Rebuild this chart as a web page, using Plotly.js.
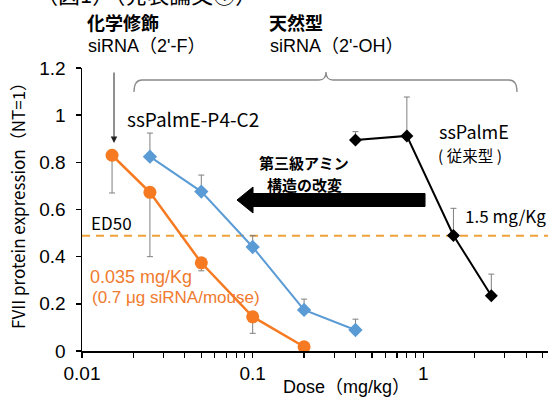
<!DOCTYPE html>
<html>
<head>
<meta charset="utf-8">
<script src="https://cdn.plot.ly/plotly-3.0.1.min.js"></script>
<style>html,body{margin:0;padding:0;background:#fff;}#chart{width:548px;height:397px;}</style>
</head>
<body>
<div id="chart"></div>
<script>
// ---- data ----
const doseOrange = [0.015, 0.025, 0.05, 0.1, 0.2];
const fviiOrange = [0.83, 0.673, 0.374, 0.145, 0.018];
const errMinusOrange = [0.16, 0.273, 0.034, 0.07, 0];

const doseBlue = [0.025, 0.05, 0.1, 0.2, 0.4];
const fviiBlue = [0.824, 0.676, 0.441, 0.174, 0.089];
const errPlusBlue = [0.10, 0.07, 0.048, 0.046, 0.046];

const doseBlack = [0.4, 0.8, 1.5, 2.5];
const fviiBlack = [0.895, 0.912, 0.49, 0.234];
const errPlusBlack = [0.035, 0.165, 0.115, 0.092];

const ed50 = 0.489;

const xTickVals = [0.01, 0.1, 1];
const xTickText = ['0.01', '0.1', '1'];
const xMinorVals = [0.02,0.03,0.04,0.05,0.06,0.07,0.08,0.09,0.2,0.3,0.4,0.5,0.6,0.7,0.8,0.9,2,3,4,5];
const yTickVals = [0, 0.2, 0.4, 0.6, 0.8, 1, 1.2];
const yTickText = ['0', '0.2', '0.4', '0.6', '0.8', '1', '1.2'];

// ---- layout helpers (pixel -> paper) ----
const M = {l: 82, r: 0, t: 68, b: 46};
const W = 548, H = 397;
const PW = W - M.l - M.r, PH = H - M.t - M.b;
const X = px => (px - M.l) / PW;
const Y = py => (H - M.b - py) / PH;

const JP = '"Noto Sans CJK JP", "Noto Sans", sans-serif';
const LAT = '"Liberation Sans", "Noto Sans CJK JP", Arial, sans-serif';
const errGray = '#7f7f7f';

const traces = [
  {
    x: doseBlack, y: fviiBlack, type: 'scatter', mode: 'lines+markers',
    line: {color: '#000000', width: 2},
    marker: {symbol: 'diamond', size: 10, color: '#000000'},
    error_y: {type: 'data', symmetric: false, array: errPlusBlack, arrayminus: doseBlack.map(() => 0),
      color: errGray, thickness: 1, width: 3},
    showlegend: false, hoverinfo: 'x+y'
  },
  {
    x: doseBlue, y: fviiBlue, type: 'scatter', mode: 'lines+markers',
    line: {color: '#5B9BD5', width: 2},
    marker: {symbol: 'diamond', size: 11, color: '#5B9BD5'},
    error_y: {type: 'data', symmetric: false, array: errPlusBlue, arrayminus: doseBlue.map(() => 0),
      color: errGray, thickness: 1, width: 3},
    showlegend: false, hoverinfo: 'x+y'
  },
  {
    x: doseOrange, y: fviiOrange, type: 'scatter', mode: 'lines+markers',
    line: {color: '#F57A22', width: 2.5},
    marker: {symbol: 'circle', size: 13, color: '#F57A22'},
    error_y: {type: 'data', symmetric: false, array: doseOrange.map(() => 0), arrayminus: errMinusOrange,
      color: errGray, thickness: 1, width: 3},
    showlegend: false, hoverinfo: 'x+y'
  }
];

function ann(text, px, py, opts) {
  return Object.assign({
    text: text, xref: 'paper', yref: 'paper', x: X(px), y: Y(py),
    xanchor: 'left', yanchor: 'middle', align: 'left', showarrow: false,
    font: {family: JP, size: 18, color: '#000'}
  }, opts || {});
}

const orangeText = '#F07A2E';

const annotations = [
  ann('（図1）（発表論文①）', 146, -6.5, {xanchor: 'center', font: {family: JP, size: 22, color: '#000'}}),
  ann('<b>化学修飾</b>', 85, 22.5),
  ann("siRNA（2'-F）", 86, 46, {font: {family: LAT, size: 18, color: '#000'}}),
  ann('<b>天然型</b>', 267, 22.5),
  ann("siRNA（2'-OH）", 268, 46, {font: {family: LAT, size: 18, color: '#000'}}),
  ann('ssPalmE-P4-C2', 125, 118, {font: {family: JP, size: 19, color: '#000'}}),
  ann('ssPalmE', 437, 131, {font: {family: JP, size: 18, color: '#000'}}),
  ann('( 従来型 )', 436, 155, {font: {family: JP, size: 15.5, color: '#000'}}),
  ann('<b>第三級アミン</b>', 304, 162, {xanchor: 'center', font: {family: JP, size: 15, color: '#000'}}),
  ann('<b>構造の改変</b>', 304, 184, {xanchor: 'center', font: {family: JP, size: 15, color: '#000'}}),
  ann('1.5 mg/Kg', 463, 216, {font: {family: JP, size: 17, color: '#000'}}),
  ann('ED50', 89, 222, {font: {family: JP, size: 17, color: '#000'}}),
  ann('0.035 mg/Kg', 88, 277, {font: {family: LAT, size: 18, color: orangeText}}),
  ann('(0.7 μg siRNA/mouse)', 90, 297, {font: {family: LAT, size: 17, color: orangeText}}),
  ann('Dose（mg/kg）', 346, 387, {xanchor: 'center', font: {family: LAT, size: 18, color: '#000'}}),
  ann('FVII protein expression（NT=1）', 17, 202, {xanchor: 'center', textangle: -90, font: {family: JP, size: 17, color: '#000'}}),
  // thin down arrow
  {text: '', xref: 'paper', yref: 'paper', x: X(114), y: Y(143), ax: 0, ay: -72,
   showarrow: true, arrowhead: 2, arrowsize: 1.3, arrowwidth: 1, arrowcolor: '#222', standoff: 0}
];

const fx = v => X(v).toFixed(4), fy = v => Y(v).toFixed(4);
const bigArrow = 'M' + fx(237) + ',' + fy(200) +
  ' L' + fx(253) + ',' + fy(187) + ' L' + fx(253) + ',' + fy(193.5) +
  ' L' + fx(425) + ',' + fy(193.5) + ' L' + fx(425) + ',' + fy(206.5) +
  ' L' + fx(253) + ',' + fy(206.5) + ' L' + fx(253) + ',' + fy(213) + ' Z';

const bracket = 'M' + fx(134) + ',' + fy(92) +
  ' Q' + fx(134) + ',' + fy(80) + ' ' + fx(142) + ',' + fy(80) +
  ' L' + fx(319) + ',' + fy(80) +
  ' Q' + fx(326) + ',' + fy(80) + ' ' + fx(326) + ',' + fy(72) +
  ' Q' + fx(326) + ',' + fy(80) + ' ' + fx(333) + ',' + fy(80) +
  ' L' + fx(509) + ',' + fy(80) +
  ' Q' + fx(517) + ',' + fy(80) + ' ' + fx(517) + ',' + fy(92);

const shapes = [
  {type: 'line', xref: 'paper', yref: 'y', x0: 0, x1: 1, y0: ed50, y1: ed50,
   line: {color: '#EFA13A', width: 2, dash: '8px,6px'}, layer: 'below'},
  {type: 'path', xref: 'paper', yref: 'paper', path: bigArrow,
   fillcolor: '#000', line: {color: '#000', width: 1}},
  {type: 'path', xref: 'paper', yref: 'paper', path: bracket,
   line: {color: '#8a8a8a', width: 1.3}}
];

const layout = {
  width: W, height: H,
  margin: M,
  paper_bgcolor: '#fff', plot_bgcolor: '#fff',
  showlegend: false,
  font: {family: '"Liberation Sans", Arial, sans-serif', color: '#000'},
  xaxis: {
    type: 'log', range: [-2, 0.73],
    tickvals: xTickVals, ticktext: xTickText,
    ticks: 'outside', ticklen: 5, tickwidth: 1.5, tickcolor: '#000',
    minor: {tickvals: xMinorVals, ticks: 'outside', ticklen: 5, tickwidth: 1.2, tickcolor: '#000', showgrid: false},
    showline: true, linecolor: '#000', linewidth: 1.5,
    showgrid: false, zeroline: false,
    tickfont: {family: '"Liberation Sans", Arial, sans-serif', size: 19, color: '#000'}
  },
  yaxis: {
    range: [0, 1.2],
    tickvals: yTickVals, ticktext: yTickText,
    ticks: 'outside', ticklen: 5, tickwidth: 1.5, tickcolor: '#000',
    showline: true, linecolor: '#000', linewidth: 1.5,
    showgrid: false, zeroline: false,
    ticklabelstandoff: 6,
    tickfont: {family: '"Liberation Sans", Arial, sans-serif', size: 19, color: '#000'}
  },
  annotations: annotations,
  shapes: shapes
};

Plotly.newPlot('chart', traces, layout, {displayModeBar: false, staticPlot: true});
</script>
</body>
</html>
